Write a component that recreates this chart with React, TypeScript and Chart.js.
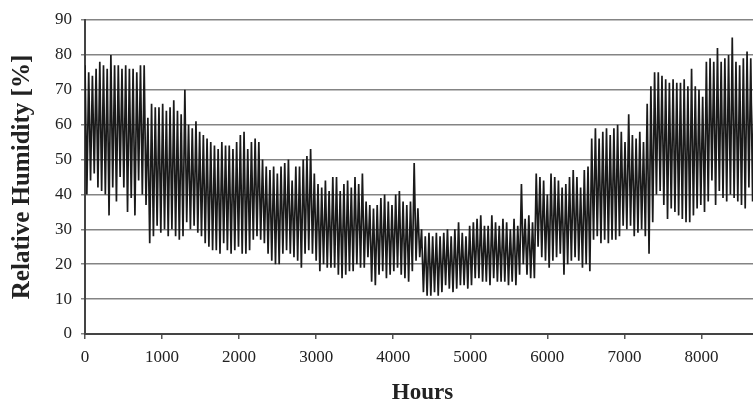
import React, { useEffect, useRef } from "react";
import { Chart, registerables } from "chart.js";

Chart.register(...registerables);

// Each entry covers two days: a high reading followed, one day later, by a low reading.
const HOURS_PER_READING = 24;

const highs: number[] = [
  77, 75, 74, 76, 78, 77, 76, 80, 77, 77, 76, 77, 76, 76, 75, 77, 77,
  62, 66, 65, 65, 66, 64, 65, 67, 64, 63, 70, 60, 59, 61, 58, 57, 56, 55, 54, 53,
  55, 54, 54, 53, 55, 57, 58, 53, 55, 56, 55, 50, 48, 47, 48, 46, 48, 49, 50, 44,
  48, 48, 50, 51, 53, 46, 43, 42, 44, 41, 45, 45, 41, 43, 44, 42,
  45, 43, 46, 38, 37, 36, 37, 39, 40, 38, 37, 40, 41, 38, 37, 38, 49, 36, 30, 28,
  29, 28, 29, 28, 29, 30, 28, 30, 32, 29, 28, 31, 32, 33, 34, 31,
  31, 34, 32, 31, 33, 32, 30, 33, 31, 43, 33, 34, 32, 46, 45, 44, 40, 46, 45, 44,
  42, 43, 45, 47, 45, 42, 47, 48, 56, 59, 56, 58, 59, 57, 59, 60,
  58, 55, 63, 57, 56, 58, 55, 66, 71, 75, 75, 74, 73, 72, 73, 72, 72, 73, 71, 76,
  71, 70, 68, 78, 79, 78, 82, 78, 79, 80, 85, 78, 77, 79, 81, 79, 80, 78,
];

const lows: number[] = [
  40, 44, 46, 42, 41, 40, 34, 42, 38, 45, 42, 35, 39, 34, 44, 40, 37,
  26, 28, 31, 29, 30, 28, 30, 28, 27, 28, 32, 30, 31, 29, 28, 26, 25, 24, 24, 23,
  26, 24, 23, 24, 25, 23, 23, 24, 27, 28, 27, 26, 23, 21, 20, 20, 23, 24, 23, 22,
  21, 19, 23, 24, 23, 21, 18, 20, 19, 19, 19, 17, 16, 17, 18, 18,
  20, 19, 19, 22, 15, 14, 17, 18, 16, 17, 18, 19, 17, 16, 15, 18, 21, 22, 12, 11,
  11, 12, 11, 12, 14, 13, 12, 13, 14, 14, 13, 14, 16, 16, 15, 15,
  14, 16, 15, 15, 15, 14, 15, 14, 17, 20, 17, 16, 16, 25, 22, 21, 19, 21, 22, 23,
  17, 20, 21, 22, 21, 19, 20, 18, 27, 28, 26, 27, 26, 27, 27, 28,
  31, 30, 31, 28, 29, 30, 28, 23, 32, 40, 41, 37, 33, 36, 35, 34, 33, 32, 32, 34,
  36, 37, 35, 38, 44, 37, 41, 39, 38, 40, 39, 38, 37, 36, 42, 38, 39, 40,
];

const xTickValues: number[] = [0, 1000, 2000, 3000, 4000, 5000, 6000, 7000, 8000];
const yTickValues: number[] = [0, 10, 20, 30, 40, 50, 60, 70, 80, 90];
const X_MAX = 8760;

const SERIF = "'Liberation Serif', 'Times New Roman', serif";

export default function App() {
  const ref = useRef<HTMLCanvasElement>(null);

  useEffect(() => {
    if (!ref.current) return;
    const pts: { x: number; y: number }[] = [];
    highs.forEach((h, i) => {
      pts.push({ x: 2 * i * HOURS_PER_READING, y: h });
      pts.push({ x: (2 * i + 1) * HOURS_PER_READING, y: lows[i] });
    });

    const tickFont = { family: SERIF, size: 17 };

    const chart = new Chart(ref.current, {
      type: "line",
      data: {
        datasets: [
          {
            data: pts,
            borderColor: "#1a1a1a",
            borderWidth: 1.7,
            pointRadius: 0,
            tension: 0,
            fill: false,
          },
        ],
      },
      options: {
        responsive: false,
        animation: false,
        devicePixelRatio: 1,
        layout: { padding: { left: 0, top: 20, right: 0, bottom: 0 } },
        plugins: { legend: { display: false }, tooltip: { enabled: false } },
        scales: {
          x: {
            type: "linear",
            min: 0,
            max: X_MAX,
            afterBuildTicks: (s: any) => {
              s.ticks = xTickValues.map((v) => ({ value: v }));
            },
            afterFit: (s: any) => {
              s.height = 73;
            },
            ticks: {
              font: tickFont,
              color: "#222",
              padding: 8,
              maxRotation: 0,
              autoSkip: false,
              callback: (v: any) => String(v),
            },
            grid: {
              drawOnChartArea: false,
              drawTicks: true,
              tickLength: 5,
              color: "#555",
              lineWidth: 1.5,
            },
            border: { display: true, color: "#444", width: 2 },
            title: {
              display: true,
              text: "Hours",
              color: "#222",
              font: { family: SERIF, size: 23, weight: "bold" },
              padding: { top: 0, bottom: 0 },
            },
          },
          y: {
            type: "linear",
            min: 0,
            max: 90,
            afterBuildTicks: (s: any) => {
              s.ticks = yTickValues.map((v) => ({ value: v }));
            },
            afterFit: (s: any) => {
              s.width = 85;
            },
            ticks: {
              font: tickFont,
              color: "#222",
              padding: 9,
              callback: (v: any) => String(v),
            },
            grid: {
              drawTicks: true,
              tickLength: 4,
              color: "#848484",
              lineWidth: 1.5,
            },
            border: { display: true, color: "#444", width: 2 },
            title: {
              display: true,
              text: "Relative Humidity [%]",
              color: "#222",
              font: { family: SERIF, size: 25, weight: "bold" },
              padding: { top: 8, bottom: 0 },
            },
          },
        },
      },
    } as any);

    return () => chart.destroy();
  }, []);

  return (
    <div
      style={{
        position: "fixed",
        left: 0,
        top: 0,
        width: 753,
        height: 407,
        overflow: "hidden",
        background: "#fff",
      }}
    >
      <canvas ref={ref} width={760} height={407} style={{ display: "block" }} />
    </div>
  );
}
